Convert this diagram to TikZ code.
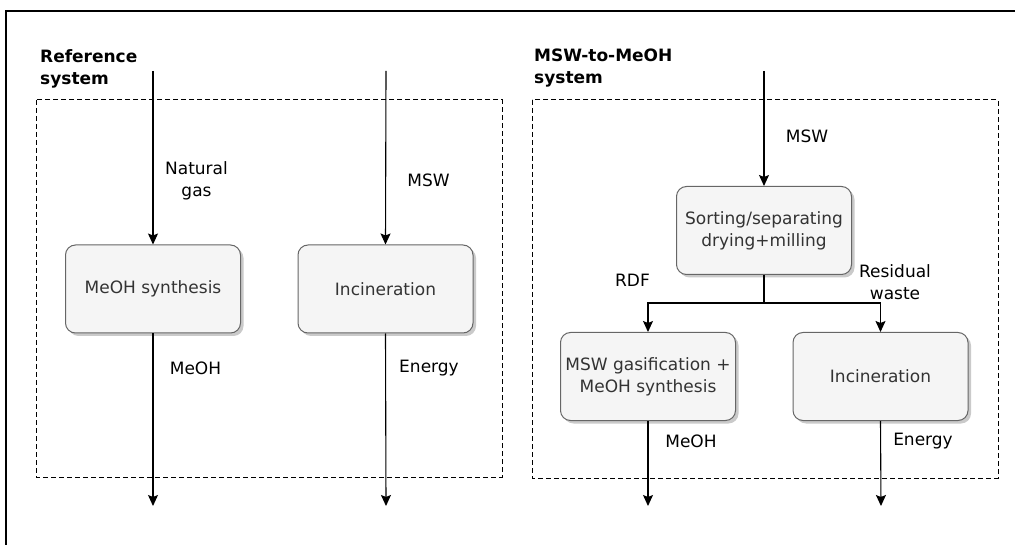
\documentclass[tikz,border=0pt]{standalone}
\usepackage{fontspec}
\setmainfont{DejaVu Sans}
\usetikzlibrary{arrows.meta,shadows}
\definecolor{boxfill}{HTML}{F5F5F5}
\definecolor{boxline}{HTML}{666666}
\definecolor{boxtext}{HTML}{333333}
\tikzset{
  procbox/.style={draw=boxline, fill=boxfill, rounded corners=10pt, line width=1pt,
    minimum width=175pt, minimum height=88pt, inner sep=0pt, align=center,
    text=boxtext, font=\fontsize{17}{22}\selectfont,
    drop shadow={shadow xshift=3pt, shadow yshift=-3pt, fill=black!35, opacity=0.6}},
  flow/.style={line width=1.1pt, -{Stealth[length=11pt,width=10pt,inset=2pt]}},
  plain/.style={line width=1.1pt},
  lbl/.style={font=\fontsize{17}{22}\selectfont, align=center, inner sep=0pt},
  title/.style={font=\fontsize{17}{22}\selectfont\bfseries, align=left, inner sep=0pt, anchor=north west},
  sysbox/.style={draw, line width=1pt, dash pattern=on 5pt off 3pt}
}
\begin{document}
\begin{tikzpicture}[x=1pt,y=-1pt]
\useasboundingbox (0,0) rectangle (1015,545);
% outer frame (left and top edges)
\draw[line width=2pt] (6,545) -- (6,11) -- (1015,11);

% system boundaries
\draw[sysbox] (36,100) rectangle (502,477);
\draw[sysbox] (532,100) rectangle (998,478);
\node[title] (t1) at (40,49) {Reference\\system};
\node[title] (t2) at (534,49) {MSW-to-MeOH\\system};

% reference system
\node[procbox] (meoh) at (153,289) {MeOH synthesis};
\node[procbox] (inc1) at (385.5,289) {Incineration};
\coordinate (ng) at (153,71);
\coordinate (msw1) at (386,71);
\coordinate (out1) at (153,506);
\coordinate (out2) at (386,506);
\draw[flow] (ng) -- (meoh.north);
\draw[flow] (msw1) -- (inc1.north);
\draw[flow] (meoh.south) -- (out1);
\draw[flow] (inc1.south) -- (out2);
\node[lbl] at (196.5,181) {Natural\\gas};
\node[lbl] at (428.5,180) {MSW};
\node[lbl] at (195.5,368) {MeOH};
\node[lbl] at (429,368) {Energy};

% MSW-to-MeOH system
\node[procbox] (sort) at (764,230.5) {Sorting/separating\\drying+milling};
\node[procbox] (gas) at (648,376.5) {MSW gasification +\\MeOH synthesis};
\node[procbox] (inc2) at (880.5,376.5) {Incineration};
\coordinate (msw2) at (764,71);
\coordinate (split) at (764,303);
\coordinate (out3) at (648,506);
\coordinate (out4) at (881,506);
\draw[flow] (msw2) -- (sort.north);
\draw[plain] (sort.south) -- (split);
\draw[flow] (split) -| (gas.north);
\draw[flow] (split) -| (inc2.north);
\draw[flow] (gas.south) -- (out3);
\draw[flow] (inc2.south) -- (out4);
\node[lbl] at (807,136) {MSW};
\node[lbl] at (632.5,280) {RDF};
\node[lbl] at (895,282) {Residual\\waste};
\node[lbl] at (691,441) {MeOH};
\node[lbl] at (923,441) {Energy};
\end{tikzpicture}
\end{document}
